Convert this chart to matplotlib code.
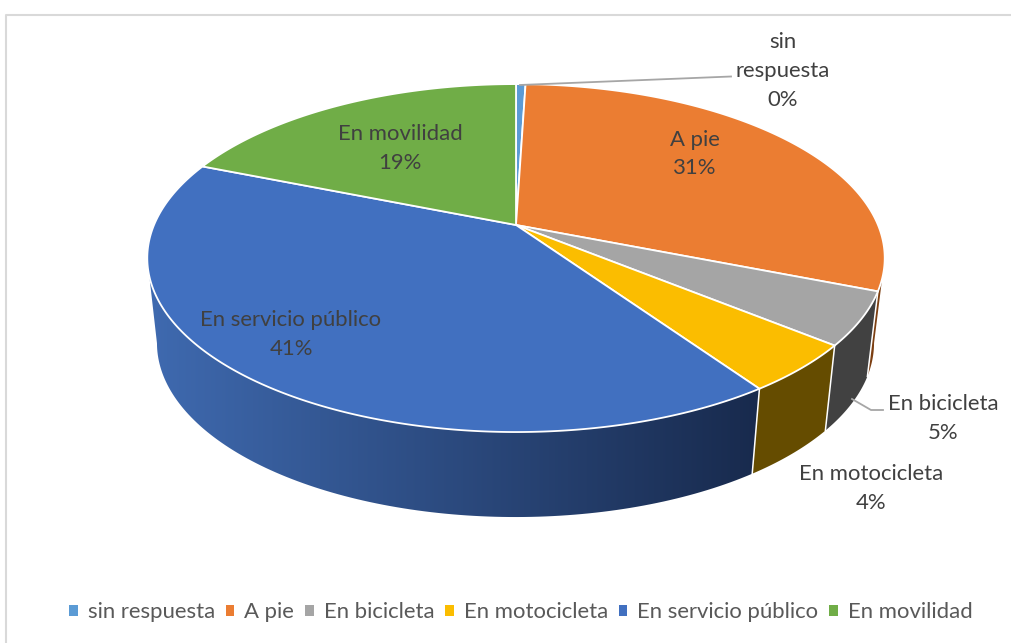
#!/usr/bin/env python3
import numpy as np
import matplotlib
matplotlib.use('Agg')
import matplotlib.pyplot as plt
from matplotlib.patches import Patch, Polygon

categories = ['sin respuesta', 'A pie', 'En bicicleta', 'En motocicleta',
              'En servicio público', 'En movilidad']
shares = [0.5, 30.5, 4.9, 4.5, 40.7, 18.9]
percent_labels = ['0%', '31%', '5%', '4%', '41%', '19%']
colors = ['#5b9bd5', '#eb7d32', '#a5a5a5', '#fbbd00', '#4170c0', '#70ad47']
side_colors = ['#333333', '#7c3f12', '#414141', '#654c00', None, '#333333']
label_text = ['sin\nrespuesta', 'A pie', 'En bicicleta', 'En motocicleta',
              'En servicio público', 'En movilidad']

plt.rcParams['font.family'] = ['Lato', 'DejaVu Sans']
W, H = 1011, 643
FONT_SIZE = 15.9

# perspective of the disc, in pixels
P = 0.19
TOP = dict(cx=516, cy=225, a=362, b=167.7)
BOTTOM = dict(cx=515.5, cy=310, a=352, b=167.7)


def project(theta, cx, cy, a, b):
    '''theta in degrees, clockwise from 12 o clock'''
    t = np.radians(theta)
    d = 1 + P * np.cos(t)
    return cx + a * np.sin(t) / d, cy - b * np.cos(t) / d


fig = plt.figure(figsize=(W / 100, H / 100), dpi=100)
ax = fig.add_axes([0, 0, 1, 1])

# chart frame
ax.plot([6, 6, W], [H, 14.5, 14.5], color='#d9d9d9', lw=1.5, zorder=1)

edges = np.concatenate([[0], np.cumsum(shares)]) / np.sum(shares) * 360

# sides first, only the front part of the rim shows
for i, name in enumerate(categories):
    start = max(edges[i], 101)
    stop = min(edges[i + 1], 259)
    if stop <= start:
        continue
    th = np.linspace(start, stop, 120)
    xt, yt = project(th, **TOP)
    xb, yb = project(th[::-1], **BOTTOM)
    pts = np.column_stack([np.r_[xt, xb], np.r_[yt, yb]])
    if side_colors[i] is not None:
        ax.add_patch(Polygon(pts, facecolor=side_colors[i], edgecolor='none', zorder=2))
    else:
        # blue side has a left to right gradient
        poly = Polygon(pts, facecolor='none', edgecolor='none', zorder=2)
        ax.add_patch(poly)
        grad = np.linspace(0, 1, 256).reshape(1, -1, 1)
        img = np.array([0x3f, 0x6a, 0xb0]) / 255 * (1 - grad) + np.array([0x18, 0x2a, 0x4d]) / 255 * grad
        im = ax.imshow(img, extent=(147, 760, 520, 255), aspect='auto', zorder=2, interpolation='bilinear')
        im.set_clip_path(poly)

ax.set_xlim(0, W)
ax.set_ylim(H, 0)
ax.axis('off')

# seams between the sides
for t in edges[2:5]:
    x0, y0 = project(t, **TOP)
    x1, y1 = project(t, **BOTTOM)
    ax.plot([x0, x1], [y0, y1], color='white', lw=1.1, zorder=3)

# top of the pie
for i, name in enumerate(categories):
    th = np.linspace(edges[i], edges[i + 1], max(3, int(shares[i] * 8)))
    xs, ys = project(th, **TOP)
    ax.fill(np.r_[TOP['cx'], xs], np.r_[TOP['cy'], ys], facecolor=colors[i],
            edgecolor='white', lw=1.3, joinstyle='round', zorder=4)

# leader lines
ax.plot([520, 731], [85, 76.5], color='#a6a6a6', lw=1.3, zorder=5)
ax.plot([852, 871, 883], [399, 410, 410], color='#a6a6a6', lw=1.3, zorder=5)

# data labels
label_pos = [(783, 71), (695, 154), (943, 418.5), (871, 488.5), (291, 334.5), (400, 148.5)]
for (x, y), txt, pct in zip(label_pos, label_text, percent_labels):
    ax.text(x, y, txt + '\n' + pct, ha='center', va='center', fontsize=FONT_SIZE,
            color='#404040', linespacing=1.55, zorder=6)

handles = [Patch(facecolor=c, label=n) for c, n in zip(colors, categories)]
ax.legend(handles=handles, ncol=6, loc='center', bbox_to_anchor=(521 / W, 1 - 612 / H),
          frameon=False, fontsize=FONT_SIZE, labelcolor='#595959', handlelength=0.38,
          handleheight=0.38, handletextpad=0.45, columnspacing=0.5, borderpad=0)

fig.savefig('out.png', dpi=100, facecolor='white')
